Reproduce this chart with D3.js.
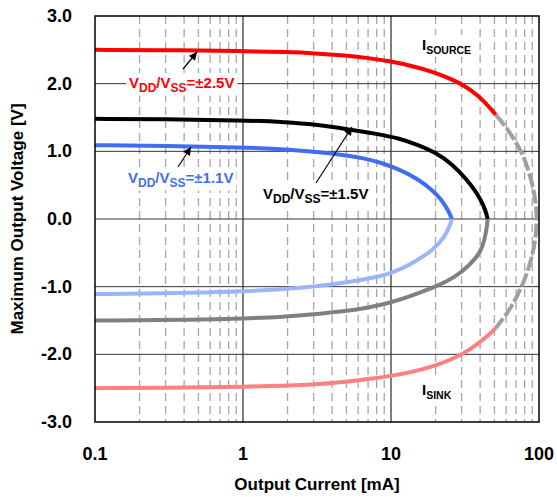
<!DOCTYPE html>
<html><head><meta charset="utf-8">
<script src="https://cdn.jsdelivr.net/npm/d3@7"></script>
<style>body{margin:0;background:#fff}svg{display:block}text{font-family:Arial,"Liberation Sans",sans-serif;font-weight:bold}</style>
</head><body><svg id="c" width="557" height="497"></svg>
<script>
// ---- data (current in mA, voltage in V) ----
const xTicks = [0.1, 1, 10, 100];
const xTickLabels = ["0.1", "1", "10", "100"];
const yTicks = [-3, -2, -1, 0, 1, 2, 3];
const yTickLabels = ["-3.0", "-2.0", "-1.0", "0.0", "1.0", "2.0", "3.0"];

const src25 = [[0.1,2.5],[0.3,2.495],[1,2.483],[2,2.466],[3,2.45],[5,2.415],[7,2.38],[10,2.33],[14,2.26],[19,2.18],[24,2.09],[29,2.01],[34,1.92],[42,1.76],[51,1.54]];
const ext25 = [[51,1.54],[58,1.40],[66,1.22],[77,0.98],[85,0.72],[91,0.48],[95,0.25],[97,0],[95,-0.27],[91,-0.5],[85,-0.74],[77,-0.99],[66,-1.28],[58,-1.46],[51,-1.61]];
const snk25 = [[51,-1.61],[47,-1.69],[40,-1.82],[34,-1.93],[28,-2.04],[20,-2.17],[14,-2.26],[10,-2.32],[8,-2.35],[5,-2.41],[3,-2.45],[1,-2.48],[0.3,-2.495],[0.1,-2.5]];

const src15 = [[0.1,1.48],[0.3,1.475],[1,1.46],[2,1.43],[3,1.40],[5.3,1.32],[8,1.26],[11.5,1.19],[15,1.10],[19.8,0.99],[26,0.81],[32.6,0.58],[37,0.42],[40.5,0.28],[43.5,0.13],[45,0]];
const snk15 = [[45,0],[44,-0.2],[41.5,-0.42],[38,-0.57],[30,-0.79],[24,-0.92],[19.5,-1.01],[14,-1.13],[9.8,-1.24],[7,-1.31],[5,-1.36],[3,-1.41],[1.8,-1.45],[1,-1.47],[0.5,-1.49],[0.1,-1.50]];

const src11 = [[0.1,1.09],[0.3,1.08],[1,1.06],[2,1.03],[4.5,0.96],[6.5,0.90],[8.4,0.84],[11.5,0.73],[15,0.60],[19.3,0.42],[22,0.28],[24.5,0.12],[25.8,0]];
const snk11 = [[25.8,0],[25,-0.1],[23,-0.27],[19.3,-0.46],[13.4,-0.68],[10,-0.8],[8.4,-0.85],[5,-0.94],[3,-1.0],[1.8,-1.04],[1,-1.07],[0.5,-1.09],[0.1,-1.11]];

const svg = d3.select("#c");
const L = 95, R = 539, T = 16, B = 422;
const x = d3.scaleLog().domain([0.1, 100]).range([L, R]);
const y = d3.scaleLinear().domain([-3, 3]).range([B, T]);

// minor dashed gridlines
const minors = [];
for (const d of [0.1, 1, 10]) for (let k = 2; k <= 9; k++) minors.push(d * k);
svg.append("g").selectAll("line").data(minors).join("line")
  .attr("x1", d => x(d)).attr("x2", d => x(d)).attr("y1", T).attr("y2", B)
  .attr("stroke", "#a6a6a6").attr("stroke-width", 1.3).attr("stroke-dasharray", "8,5");
// major vertical
svg.append("g").selectAll("line").data([1, 10]).join("line")
  .attr("x1", d => x(d)).attr("x2", d => x(d)).attr("y1", T).attr("y2", B)
  .attr("stroke", "#000").attr("stroke-width", 1);
// horizontal grid
svg.append("g").selectAll("line").data([-2, -1, 0, 1, 2]).join("line")
  .attr("x1", L).attr("x2", R).attr("y1", d => y(d)).attr("y2", d => y(d))
  .attr("stroke", "#333").attr("stroke-width", 1);

// curves
const line = d3.line().x(d => x(d[0])).y(d => y(d[1])).curve(d3.curveBasis);
function curve(data, color, dash) {
  const p = svg.append("path").attr("d", line(data)).attr("fill", "none")
    .attr("stroke", color).attr("stroke-width", 4).attr("stroke-linecap", "butt");
  if (dash) p.attr("stroke-dasharray", dash);
}
curve(ext25, "#a0a0a0", "14,3");
curve(src25, "#ff0000");
curve(snk25, "#ff8080");
curve(src15, "#000000");
curve(snk15, "#808080");
curve(src11, "#3f6ff0");
curve(snk11, "#9db4fb");

// frame
svg.append("rect").attr("x", L).attr("y", T).attr("width", R - L).attr("height", B - T)
  .attr("fill", "none").attr("stroke", "#000").attr("stroke-width", 1.5);

// axes labels
svg.append("g").selectAll("text").data(yTicks).join("text")
  .attr("x", 72).attr("y", d => y(d) + 6).attr("text-anchor", "end")
  .attr("font-size", 18).text((d, i) => yTickLabels[i]);
svg.append("g").selectAll("text").data(xTicks).join("text")
  .attr("x", d => x(d)).attr("y", 460).attr("text-anchor", "middle")
  .attr("font-size", 18).text((d, i) => xTickLabels[i]);
svg.append("text").attr("x", 317).attr("y", 490).attr("text-anchor", "middle")
  .attr("font-size", 17).text("Output Current [mA]");
svg.append("text").attr("transform", "translate(23," + ((T + B) / 2) + ") rotate(-90)")
  .attr("text-anchor", "middle").attr("font-size", 17).text("Maximum Output Voltage [V]");

// arrow marker
svg.append("defs").append("marker").attr("id", "ah").attr("viewBox", "0 0 10 10")
  .attr("refX", 10).attr("refY", 5).attr("markerWidth", 11).attr("markerHeight", 8)
  .attr("markerUnits", "userSpaceOnUse").attr("orient", "auto")
  .append("path").attr("d", "M0,0L10,5L0,10z").attr("fill", "#000");

function arrow(x1, y1, x2, y2) {
  svg.append("line").attr("x1", x1).attr("y1", y1).attr("x2", x2).attr("y2", y2)
    .attr("stroke", "#000").attr("stroke-width", 1.2).attr("marker-end", "url(#ah)");
}
function label(px, py, parts, color, fs, sfs) {
  const g = svg.append("g");
  const t = g.append("text").attr("x", px).attr("y", py).attr("fill", color).attr("font-size", fs);
  parts.forEach(([s, sub], i) => {
    const prev = i > 0 ? parts[i - 1][1] : false;
    const ts = t.append("tspan").text(s);
    if (sub) ts.attr("font-size", sfs);
    ts.attr("dy", sub && !prev ? 3.5 : (!sub && prev ? -3.5 : 0));
  });
  const bb = t.node().getBBox();
  g.insert("rect", "text").attr("x", bb.x - 3).attr("y", bb.y - 1).attr("width", bb.width + 6)
    .attr("height", bb.height + 2).attr("fill", "#fff");
}
const vparts = v => [["V"], ["DD", 1], ["/V"], ["SS", 1], ["=±" + v + "V"]];
label(129, 88, vparts("2.5"), "#ff0000", 15, 12);
label(128, 183, vparts("1.1"), "#3f6ff0", 15, 12);
label(263, 199, vparts("1.5"), "#000", 15, 12);
label(422, 50, [["I"], ["SOURCE", 1]], "#000", 15, 10.5);
label(422, 395, [["I"], ["SINK", 1]], "#000", 15, 10.5);

arrow(183, 69, 197, 52);
arrow(178, 167, 191, 147);
arrow(316, 183, 352, 127);
</script></body></html>
